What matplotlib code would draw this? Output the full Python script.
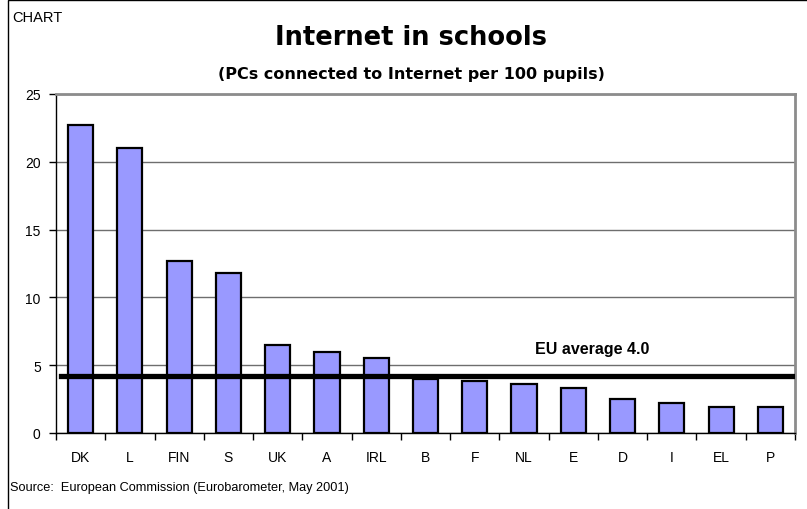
import matplotlib
matplotlib.use("Agg")
import matplotlib.pyplot as plt
from matplotlib.patches import Rectangle

countries = ["DK", "L", "FIN", "S", "UK", "A", "IRL", "B", "F", "NL", "E", "D", "I", "EL", "P"]
pcs_per_100 = [22.7, 21.0, 12.7, 11.8, 6.5, 6.0, 5.5, 4.0, 3.8, 3.6, 3.3, 2.5, 2.2, 1.9, 1.9]
eu_average_line = 4.2
eu_average_label = "EU average 4.0"
y_ticks = [0, 5, 10, 15, 20, 25]

W, H = 807, 510
fig = plt.figure(figsize=(W / 100, H / 100), dpi=100)
fig.patch.set_facecolor("white")

# outer frame
fig.add_artist(Rectangle((8 / W, -0.05), 1.2, 1 - 1 / H + 0.05, transform=fig.transFigure,
                         fill=False, edgecolor="black", linewidth=1.0))

ax = fig.add_axes([56 / W, 1 - 434 / H, (795 - 56) / W, (434 - 95) / H])
x = list(range(len(countries)))
ax.bar(x, pcs_per_100, width=0.51, color="#9999ff", edgecolor="black", linewidth=1.6, zorder=3)
ax.set_xlim(-0.5, len(countries) - 0.5)
ax.set_ylim(0, 25)
ax.set_yticks(y_ticks)
ax.yaxis.grid(True, color="#6e6e6e", linewidth=1.0, zorder=0)
ax.set_axisbelow(True)

ax.set_xticks(x)
ax.set_xticklabels(countries, fontsize=10, family="Liberation Sans")
ax.tick_params(axis="x", which="major", length=0, pad=12)
ax.set_xticks([i + 0.5 for i in range(-1, len(countries))], minor=True)
ax.tick_params(axis="x", which="minor", length=5, width=1, color="black", direction="out")
ax.tick_params(axis="y", length=5, width=1, direction="out", pad=6)
for lbl in ax.get_yticklabels():
    lbl.set_fontsize(10)
    lbl.set_family("Liberation Sans")

for s in ("top", "right"):
    ax.spines[s].set_color("#8c8c8c")
    ax.spines[s].set_linewidth(2.0)
for s in ("left", "bottom"):
    ax.spines[s].set_color("black")
    ax.spines[s].set_linewidth(1.0)

ax.axhline(eu_average_line, xmin=0.007, xmax=0.997, color="black", linewidth=3.8, zorder=4)
ax.text(10.39, 6.2, eu_average_label, ha="center", va="center", fontsize=11.5,
        fontweight="bold", family="Liberation Sans")

fig.text(12 / W, 1 - 18 / H, "CHART", fontsize=10.5, family="Liberation Sans", va="center", ha="left")
fig.text(411 / W, 1 - 38 / H, "Internet in schools", fontsize=18.5, fontweight="bold",
         family="DejaVu Sans", ha="center", va="center")
fig.text(411 / W, 1 - 75 / H, "(PCs connected to Internet per 100 pupils)", fontsize=11.5,
         fontweight="bold", family="DejaVu Sans", ha="center", va="center")
fig.text(10 / W, 1 - 488 / H, "Source:  European Commission (Eurobarometer, May 2001)", fontsize=9.2,
         family="Liberation Sans", ha="left", va="center")

fig.savefig("out.png", dpi=100)
